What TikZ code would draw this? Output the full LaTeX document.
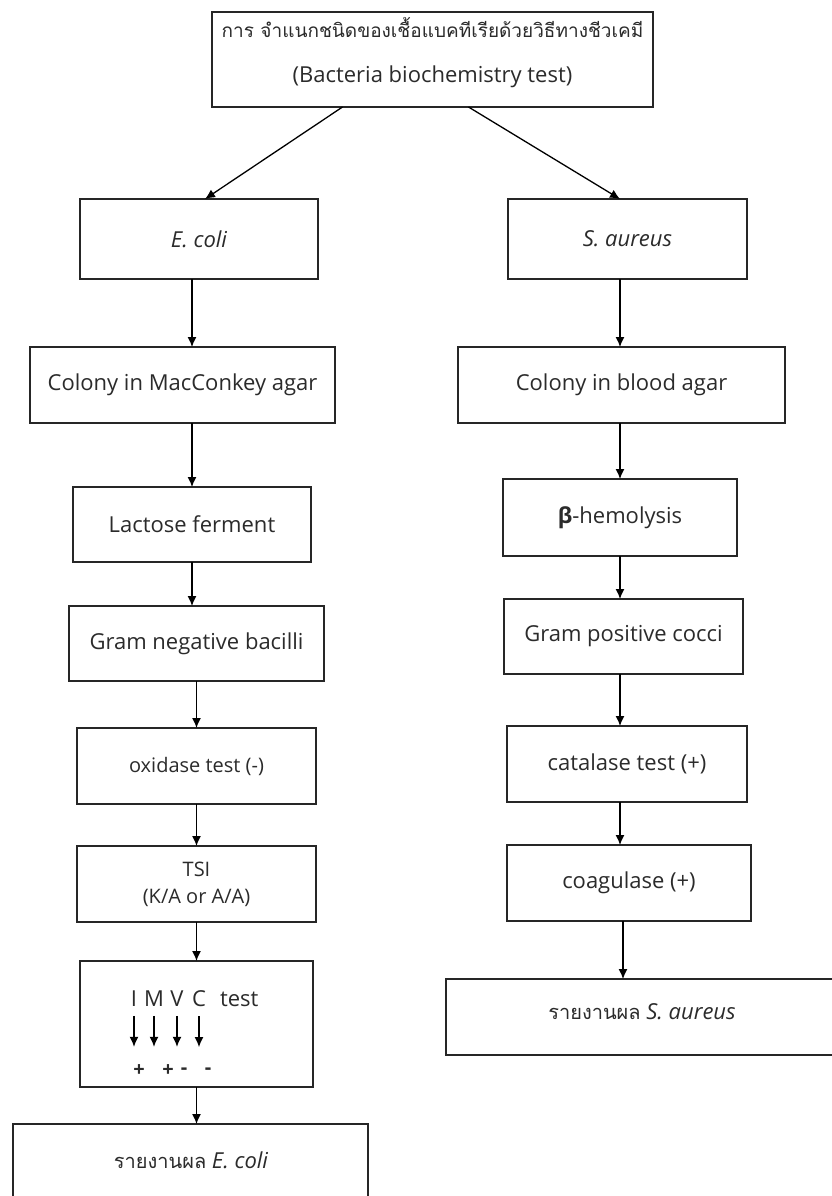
\documentclass[tikz,border=0pt]{standalone}
\usepackage{fontspec}
\setmainfont{Open Sans}
\newfontfamily\thaifont[Script=Thai]{Loma}
\usetikzlibrary{arrows.meta}
\definecolor{txtgray}{HTML}{2B2B2B}

\begin{document}
\begin{tikzpicture}[
        x=1pt, y=-1pt,
        font=\fontsize{22}{27}\selectfont,
        every node/.style={align=center, outer sep=0pt, inner sep=0pt, text=txtgray},
        % cajas: solo borde negro, sin relleno
        caja/.style={rectangle, draw=black!85, line width=1.4pt, fill=white},
        chico/.style={font=\fontsize{20}{25}\selectfont},
        flecha/.style={-{Latex[length=10pt, width=9pt]},
                       draw=black, line width=1.3pt}
    ]
        \useasboundingbox (0,0) rectangle (832,1196);

        \node[caja, minimum width=441, minimum height=95] (raiz) at (432.5,59.5) {};
        \node (traiz) at (432.5,53)
            {{\thaifont\fontsize{19}{24}\selectfont การ จำแนกชนิดของเชื้อแบคทีเรียด้วยวิธีทางชีวเคมี}\\[18pt](Bacteria biochemistry test)};

        % columna izquierda: E. coli
        \node[caja, minimum width=238, minimum height=80] (ecoli) at (199,239)    {\itshape E. coli};
        \node[caja, minimum width=305, minimum height=76] (mac)   at (182.5,385)  {Colony in MacConkey agar};
        \node[caja, minimum width=238, minimum height=75] (lact)  at (192,524.5)  {Lactose ferment};
        \node[caja, minimum width=255, minimum height=75] (gneg)  at (196.5,643.5) {Gram negative bacilli};
        \node[caja, chico, minimum width=239, minimum height=76] (oxi) at (196.5,766) {oxidase test (-)};
        \node[caja, chico, minimum width=239, minimum height=76] (tsi) at (196.5,884) {TSI\\[2pt](K/A or A/A)};
        \node[caja, minimum width=233, minimum height=126] (imvc) at (196.5,1024) {};
        \node[caja, minimum width=355, minimum height=200, anchor=north west] (recoli) at (13,1124) {};
        \node (trecoli) at (191,1160) {{\thaifont\fontsize{20}{24}\selectfont รายงานผล} \itshape E. coli};

        % letras IMVC dentro de su caja
        \node (lI) at (134,999) {I};
        \node (lM) at (154,999) {M};
        \node (lV) at (177,999) {V};
        \node (lC) at (199,999) {C};
        \node[anchor=west] (ltest) at (220,999) {test};
        \node[chico] (s1) at (139,1071) {\bfseries +};
        \node[chico] (s2) at (168,1071) {\bfseries +};
        \node[chico] (s3) at (184,1071) {\bfseries -};
        \node[chico] (s4) at (208,1071) {\bfseries -};

        % columna derecha: S. aureus
        \node[caja, minimum width=239, minimum height=80] (saur)  at (627.5,239)   {\itshape S. aureus};
        \node[caja, minimum width=327, minimum height=76] (blood) at (621.5,385)   {Colony in blood agar};
        \node[caja, minimum width=234, minimum height=77] (beta)  at (620,517.5)   {{\bfseries β}-hemolysis};
        \node[caja, minimum width=239, minimum height=75] (gpos)  at (623.5,636.5) {Gram positive cocci};
        \node[caja, minimum width=240, minimum height=76] (cata)  at (627,764)     {catalase test (+)};
        \node[caja, minimum width=244, minimum height=76] (coag)  at (629,883)     {coagulase (+)};
        \node[caja, minimum width=450, minimum height=76, anchor=north west] (rsaur) at (446,979) {};
        \node (trsaur) at (642,1012) {{\thaifont\fontsize{20}{24}\selectfont รายงานผล} \itshape S. aureus};

        \draw[flecha] ([xshift=-90pt]raiz.south) -- ([xshift=6pt]ecoli.north);
        \draw[flecha] ([xshift=36pt]raiz.south)  -- ([xshift=-7.5pt]saur.north);

        \draw[flecha] (lact.north |- ecoli.south) -- (lact.north |- mac.north);
        \draw[flecha] (lact.north |- mac.south) -- (lact.north);
        \draw[flecha] (lact.south) -- (lact.south |- gneg.north);
        \draw[flecha] (gneg.south) -- (oxi.north);
        \draw[flecha] (oxi.south) -- (tsi.north);
        \draw[flecha] (tsi.south) -- (imvc.north);
        \draw[flecha] (imvc.south) -- (imvc.south |- recoli.north);

        \foreach \l in {lI, lM, lV, lC}
            \draw[flecha] ([yshift=-9pt]\l.south) -- ++(0,31);

        \draw[flecha] (beta.north |- saur.south) -- (beta.north |- blood.north);
        \draw[flecha] (beta.north |- blood.south) -- (beta.north);
        \draw[flecha] (beta.south) -- (beta.south |- gpos.north);
        \draw[flecha] (beta.south |- gpos.south) -- (beta.south |- cata.north);
        \draw[flecha] (beta.south |- cata.south) -- (beta.south |- coag.north);
        \draw[flecha] ([xshift=3pt]beta.south |- coag.south) -- ([xshift=3pt]beta.south |- rsaur.north);
    \end{tikzpicture}
\end{document}
